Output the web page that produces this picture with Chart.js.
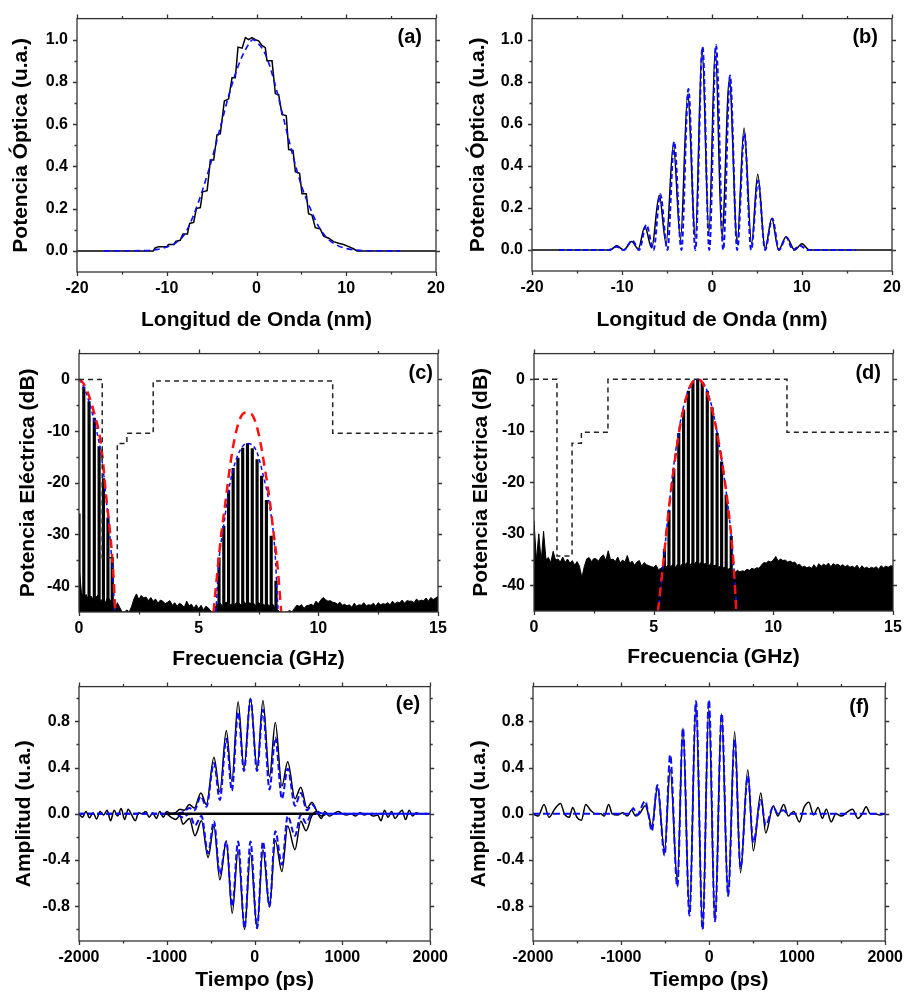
<!DOCTYPE html>
<html>
<head>
<meta charset="utf-8">
<script src="https://cdn.jsdelivr.net/npm/chart.js@4.4.1/dist/chart.umd.min.js"></script>
<style>
  body { margin: 0; background: #fff; width: 910px; height: 993px; position: relative; overflow: hidden; }
  canvas { position: absolute; }
</style>
</head>
<body>
<canvas id="pa" width="455" height="335" style="left:0;top:0"></canvas>
<canvas id="pb" width="455" height="335" style="left:455px;top:0"></canvas>
<canvas id="pc" width="455" height="340" style="left:0;top:335px"></canvas>
<canvas id="pd" width="455" height="340" style="left:455px;top:335px"></canvas>
<canvas id="pe" width="455" height="325" style="left:0;top:668px"></canvas>
<canvas id="pf" width="455" height="325" style="left:455px;top:668px"></canvas>
<script>
// ---------- (a) espectro óptico, pulso gaussiano ----------
const aSolidNm = [-20, -11.5, -11.3, -10.9, -10.0, -9.8, -9.2, -9.0, -8.5, -8.2,
  -7.7, -7.45, -7.0, -6.7, -6.26, -6.0, -5.5, -5.14, -4.77, -4.4,
  -4.03, -3.58, -3.1, -2.73, -2.36, -2.06, -1.6, -1.24, -0.87, -0.5,
  -0.13, 0.24, 0.6, 0.98, 1.17, 1.73, 2.1, 2.47, 2.84, 3.32,
  3.58, 4.07, 4.33, 4.8, 5.07, 5.55, 5.8, 6.18, 6.55, 7.1,
  7.48, 8.04, 8.6, 9.15, 9.7, 10.27, 10.8, 11.2, 20];
const aSolidP = [0, 0, 0.014, 0.02, 0.02, 0.03, 0.03, 0.045, 0.05, 0.08,
  0.08, 0.13, 0.135, 0.2, 0.205, 0.28, 0.285, 0.43, 0.43, 0.55,
  0.555, 0.71, 0.72, 0.82, 0.82, 0.965, 0.96, 1.01, 1.0, 1.01,
  1.0, 0.995, 0.973, 0.962, 0.9, 0.9, 0.744, 0.74, 0.646, 0.64,
  0.48, 0.476, 0.375, 0.367, 0.27, 0.27, 0.176, 0.17, 0.11, 0.104,
  0.07, 0.06, 0.044, 0.036, 0.03, 0.02, 0.01, 0, 0];
const aFitNm = [-17, -13, -12, -11, -10, -9, -8, -7, -6, -5, -4, -3, -2, -1, -0.4,
  0, 1, 2, 3, 4, 5, 6, 7, 8, 9, 10, 11, 12, 16];
const aFitP = [0, 0.001, 0.002, 0.007, 0.018, 0.038, 0.08, 0.17, 0.29, 0.43, 0.59, 0.75, 0.88, 0.97, 1.0,
  0.99, 0.93, 0.8, 0.63, 0.46, 0.31, 0.2, 0.11, 0.055, 0.026, 0.011, 0.004, 0.001, 0];

// ---------- (b) espectro óptico conformado ----------
const bSolidNm = [-20, -11.3, -10.6, -9.8, -8.94, -8.2, -7.46, -6.7, -5.86, -5.1,
  -4.3, -3.5, -2.7, -1.85, -1.1, -0.35, 0.37, 1.1, 1.93, 2.8,
  3.56, 4.4, 5.08, 5.9, 6.64, 7.4, 8.24, 9.2, 10.0, 10.8, 20];
const bSolidP = [0, 0, 0.02, 0.0, 0.04, 0.005, 0.11, 0.01, 0.26, 0.03,
  0.5, 0.05, 0.74, 0.06, 0.96, 0.08, 0.96, 0.06, 0.81, 0.04,
  0.58, 0.03, 0.36, 0.005, 0.15, 0.0, 0.063, 0.0, 0.03, 0.0, 0];
const bFitNm = [-17, -11.5, -10.6, -9.8, -8.85, -8.1, -7.3, -6.5, -5.75, -4.95,
  -4.2, -3.4, -2.62, -1.85, -1.05, -0.3, 0.45, 1.25, 2.0, 2.8,
  3.6, 4.35, 5.12, 5.9, 6.7, 7.45, 8.25, 9.0, 9.8, 10.6, 16];
const bFitP = [0, 0, 0.015, 0, 0.045, 0, 0.12, 0, 0.265, 0,
  0.515, 0, 0.765, 0, 0.965, 0, 0.975, 0, 0.83, 0,
  0.555, 0, 0.33, 0, 0.15, 0, 0.06, 0, 0.02, 0, 0];

// ---------- (c) espectro eléctrico, sin conformar ----------
const DB_FLOOR = -45;
const NOISE_STEP = 0.1; // GHz entre muestras del ruido
const cLineGHz = [0, 0.2, 0.42, 0.64, 0.84, 1.02, 1.21, 1.39,
  5.85, 6.05, 6.25, 6.44, 6.64, 6.84, 7.04, 7.24, 7.44, 7.63, 7.83, 8.03, 8.23];
const cLineDb = [-26, -1.5, -4.3, -7.5, -13, -19.2, -26.8, -34.5,
  -34.5, -28.4, -21.5, -17.2, -15.2, -13.3, -12.4, -13.4, -15.5, -18.7, -23.4, -30.3, -39];
const cNoiseDb = [
  -36, -41.2, -42.3, -41.6, -42.8, -41.9, -42.6, -42.2, -41.7, -42.9,
  -42.4, -43.2, -42.1, -42.7, -43.6, -45, -43.2, -44.1, -45, -45,
  -44.6, -45, -43.9, -42.4, -41.5, -42.6, -41.8, -42.3, -42.1, -42.8,
  -42.2, -42.9, -42.5, -43.3, -42.7, -42.9, -43.4, -43.1, -42.8, -43.7,
  -43.2, -43.9, -43.3, -43.6, -44.1, -42.9, -43.8, -43.5, -44.3, -43.6,
  -44.4, -43.7, -44.6, -43.9, -44.2, -44.8, -45, -43.9, -43.4, -43.3,
  -43.9, -43.2, -43.1, -43.7, -43.4, -43.6, -43.1, -43.3, -43.8, -43.0,
  -43.6, -43.2, -43.4, -43.3, -43.9, -43.1, -43.7, -43.5, -43.8, -43.6,
  -43.9, -43.5, -44.3, -44.6, -45, -45, -45, -45, -44.7, -45,
  -44.3, -43.7, -43.9, -43.6, -44.3, -43.8, -43.7, -43.5, -43.8, -42.9,
  -43.4, -42.7, -42.2, -42.6, -42.9, -42.8, -43.1, -43.2, -43.5, -43.1,
  -43.7, -43.5, -43.8, -43.6, -44.1, -43.3, -43.9, -43.6, -43.7, -43.2,
  -43.8, -43.6, -43.7, -43.3, -43.9, -43.2, -43.6, -43.4, -43.5, -43.2,
  -43.6, -42.9, -43.4, -43.1, -43.2, -42.7, -43.3, -42.8, -42.9, -42.9,
  -43.2, -42.5, -42.9, -42.7, -42.8, -42.3, -42.9, -42.2, -42.6, -42.3,
  -42];
const cFiltGHz = [0, 0.97, 0.97, 1.6, 1.6, 2.0, 2.0, 3.1, 3.1, 10.6, 10.6, 15];
const cFiltDb = [0, 0, -34.5, -34.5, -12.4, -12.4, -10.4, -10.4, -0.3, -0.3, -10.4, -10.4];
const cRedBaseGHz = [0, 0.1, 0.25, 0.45, 0.65, 0.86, 1.0, 1.11, 1.24, 1.35, 1.44, 1.52];
const cRedBaseDb = [0, -0.3, -1.3, -3.6, -6.8, -10.8, -15.8, -21.5, -27, -32.2, -38, -45];
const cBlueBaseGHz = [0, 0.1, 0.25, 0.45, 0.65, 0.85, 1.0, 1.1, 1.22, 1.33, 1.42, 1.49];
const cBlueBaseDb = [0, -0.6, -2, -4.8, -8.3, -12.5, -17, -21.5, -27, -32.5, -38.5, -45];
const cRedBandGHz = [5.62, 5.81, 5.95, 6.13, 6.3, 6.53, 6.78, 7.02, 7.27, 7.52, 7.76, 7.97, 8.13, 8.29, 8.45];
const cRedBandDb = [-45, -35.9, -29.7, -23.4, -17.1, -10.8, -7.1, -6.4, -7.1, -10.8, -17.1, -23.4, -29.7, -35.9, -45];
const cBlueBandGHz = [5.72, 5.85, 6.04, 6.3, 6.64, 7.02, 7.4, 7.69, 7.97, 8.18, 8.32];
const cBlueBandDb = [-45, -35, -28.5, -20.3, -14.6, -12.4, -13.7, -18.4, -24.6, -32.8, -45];

// ---------- (d) espectro eléctrico, conformado ----------
const dLineGHz = [5.45, 5.64, 5.84, 6.05, 6.25, 6.45, 6.64, 6.84, 7.03, 7.24, 7.44, 7.65, 7.84, 8.03, 8.24];
const dLineDb = [-33, -25.5, -17.5, -10.5, -6, -2.3, -0.5, 0, -0.6, -2.3, -5.5, -10.5, -16, -22.5, -30.5];
const dNoiseDb = [
  -27.5, -35.2, -30, -35.4, -29.5, -35.0, -34.6, -35.6, -33.4, -35.1,
  -34.9, -35.5, -34.5, -35.6, -34.9, -35.7, -35.2, -36.1, -35.4, -36.3,
  -38.5, -36.4, -34.9, -34.6, -35.4, -34.8, -34.9, -35.3, -34.5, -34.1,
  -35.2, -33.3, -35.1, -34.9, -35.4, -34.5, -35.7, -35.1, -35.5, -34.2,
  -35.8, -35.3, -36.1, -35.5, -35.2, -36.3, -35.6, -36.0, -36.2, -36.4,
  -36.5, -36.1, -37, -36.7, -36.3, -36.5, -36.1, -36.4, -36.0, -36.6,
  -35.9, -36.4, -35.8, -36.0, -35.6, -36.2, -35.6, -35.9, -35.3, -35.9,
  -35.5, -35.9, -35.7, -36.3, -35.7, -36.2, -36.1, -36.5, -36.3, -36.6,
  -36.5, -36.9, -36.7, -37.1, -37.5, -37.1, -37.4, -37.2, -37.3, -36.9,
  -37.1, -36.7, -36.9, -36.6, -36.7, -36.1, -35.6, -35.7, -35.3, -35.5,
  -35.1, -34.4, -35.3, -34.9, -35.2, -35.1, -35.5, -35.3, -35.6, -35.5,
  -36.1, -35.9, -36.5, -36.3, -36.6, -36.4, -36.7, -36.0, -36.7, -35.8,
  -36.3, -35.9, -36.2, -35.7, -36.4, -35.8, -36.1, -35.9, -36.3, -36.0,
  -36.4, -36.1, -36.5, -36.3, -36.6, -36.1, -36.9, -36.2, -36.7, -36.5,
  -36.8, -36.5, -36.7, -36.4, -36.9, -36.2, -36.6, -36.3, -36.5, -36.2,
  -36.3];
const dFiltGHz = [0, 0.96, 0.96, 1.59, 1.59, 1.98, 1.98, 3.09, 3.09, 10.57, 10.57, 15];
const dFiltDb = [0, 0, -34.3, -34.3, -12.4, -12.4, -10.3, -10.3, 0, 0, -10.3, -10.3];
const dRedGHz = [5.18, 5.35, 5.63, 5.9, 6.18, 6.46, 6.65, 6.84, 7.0, 7.16, 7.44, 7.72, 7.99, 8.2, 8.34, 8.45];
const dRedDb = [-45, -37.9, -25.4, -15.3, -7.2, -2.1, -0.4, 0, -0.4, -1.8, -5.8, -12.2, -20.3, -28.5, -36, -45];
const dBlueGHz = [5.2, 5.36, 5.62, 5.88, 6.15, 6.43, 6.63, 6.82, 7.0, 7.18, 7.45, 7.73, 8.0, 8.22, 8.36, 8.48];
const dBlueDb = [-45, -38, -25.6, -15.2, -7.4, -2.3, -0.5, 0, -0.3, -1.6, -5.7, -12.5, -20.8, -29.5, -37, -45];

// ---------- (e) pulso temporal, sin conformar ----------
const eUpPs = [-2000, -1960, -1920, -1880, -1840, -1800, -1760, -1720, -1680, -1640,
  -1600, -1560, -1520, -1480, -1440, -1400, -1360, -1320, -1280, -1240,
  -1200, -1160, -1120, -1080, -1040, -1000, -960, -900, -850, -800,
  -743, -686, -612, -549, -463, -396, -322, -259, -188, -121,
  -47, 28, 95, 170, 236, 311, 377, 460, 526, 597,
  653, 720, 760, 800, 850, 900, 950, 1000, 1050, 1100,
  1150, 1200, 1250, 1300, 1350, 1400, 1440, 1480, 1520, 1560,
  1600, 1640, 1680, 1720, 1760, 1800, 1840, 1880, 1920, 1960, 2000];
const eUpAmp = [0, -0.03, 0.02, -0.035, 0.01, -0.045, 0.02, -0.01, 0.03, -0.06,
  0.03, -0.02, 0.045, -0.05, 0.04, -0.01, -0.06, 0.01, 0.0, 0.02,
  -0.03, 0.01, -0.04, 0.02, -0.03, 0.02, 0.0, 0.01, 0.04, 0.03,
  0.08, 0.05, 0.18, 0.08, 0.49, 0.19, 0.72, 0.28, 0.97, 0.39,
  1.0, 0.39, 0.98, 0.32, 0.79, 0.24, 0.45, 0.13, 0.23, 0.05,
  0.1, 0.0, -0.04, 0.02, -0.02, 0.0, 0.02, 0.0, -0.01, 0.0,
  -0.02, 0.01, -0.01, 0.0, -0.02, -0.01, -0.06, 0.03, -0.03, 0.02,
  -0.04, 0.0, 0.03, -0.05, 0.03, -0.02, 0.01, 0.0, 0.0, 0.0, 0.0];
const eLoPs = [-1000, -950, -900, -850, -816, -743, -679, -605, -530, -463,
  -396, -322, -255, -188, -114, -47, 28, 95, 170, 236,
  311, 377, 460, 526, 586, 650, 708, 760, 820];
const eLoAmp = [0.0, -0.03, -0.05, -0.02, -0.09, -0.04, -0.19, -0.06, -0.377, -0.105,
  -0.57, -0.235, -0.86, -0.32, -1.0, -0.34, -0.985, -0.31, -0.806, -0.23,
  -0.5, -0.105, -0.31, -0.064, -0.147, -0.02, 0.02, -0.02, 0.0];
const eFitUpPs = [-2000, -900, -800, -743, -686, -612, -549, -463, -396, -322,
  -259, -188, -121, -47, 28, 95, 170, 236, 311, 377,
  460, 526, 597, 653, 720, 800, 2000];
const eFitUpAmp = [0, 0, 0.02, 0.05, 0.03, 0.15, 0.06, 0.44, 0.12, 0.65,
  0.2, 0.88, 0.37, 0.99, 0.37, 0.9, 0.21, 0.66, 0.13, 0.39,
  0.07, 0.18, 0.03, 0.08, 0.02, 0, 0];
const eFitLoPs = [-2000, -900, -816, -743, -679, -605, -530, -463, -396, -322,
  -255, -188, -114, -47, 28, 95, 170, 236, 311, 377,
  460, 526, 586, 650, 800, 2000];
const eFitLoAmp = [0, 0, -0.03, 0.0, -0.1, -0.02, -0.34, -0.064, -0.52, -0.24,
  -0.8, -0.24, -0.99, -0.24, -0.99, -0.24, -0.8, -0.15, -0.44, -0.02,
  -0.19, -0.01, -0.08, 0, 0, 0];
const eZeroPs = [-1020, 700];
const eZeroAmp = [0, 0];

// ---------- (f) pulso temporal, conformado ----------
const fPs = [-2000, -1941, -1874, -1818, -1755, -1688, -1643, -1587, -1550, -1502,
  -1450, -1401, -1346, -1290, -1230, -1190, -1141, -1100, -1040, -980,
  -930, -881, -833, -790, -725, -690, -651, -587, -506, -442,
  -361, -297, -223, -149, -74, -4, 67, 141, 216, 290,
  357, 439, 502, 587, 643, 729, 780, 848, 900, 960,
  1026, 1078, 1134, 1185, 1238, 1286, 1331, 1387, 1440, 1500,
  1560, 1628, 1690, 1740, 1784, 1830, 1880, 1940, 2000];
const fAmp = [0, -0.02, 0.08, -0.03, 0.04, 0.09, 0.0, -0.03, 0.055, -0.03,
  -0.055, 0.08, 0.03, 0.0, 0.0, -0.02, 0.08, 0.0, -0.01, 0.01,
  -0.02, 0.03, -0.02, 0.0, 0.07, 0.0, -0.11, 0.23, -0.32, 0.385,
  -0.58, 0.74, -0.865, 0.94, -1.0, 0.91, -0.93, 0.865, -0.71, 0.71,
  -0.51, 0.38, -0.32, 0.18, -0.165, 0.07, -0.02, 0.08, -0.02, 0.02,
  -0.07, 0.055, 0.1, -0.01, 0.055, -0.04, 0.04, -0.07, 0.0, -0.02,
  0.01, 0.04, -0.04, 0.0, 0.06, 0.0, 0.0, -0.01, 0];
const fFitPs = [-2000, -900, -862, -820, -725, -690, -651, -587, -506, -442,
  -361, -297, -223, -149, -74, -2, 67, 143, 216, 290,
  357, 440, 502, 587, 643, 729, 780, 840, 900, 2000];
const fFitAmp = [0, 0, 0.05, -0.01, 0.11, 0.0, -0.15, 0.25, -0.36, 0.51,
  -0.63, 0.74, -0.88, 0.975, -1.0, 0.985, -0.93, 0.865, -0.71, 0.645,
  -0.47, 0.33, -0.25, 0.12, -0.1, 0.06, 0.0, 0.03, 0, 0];

// ---------- ticks ----------
const nmTicks = [-20, -10, 0, 10, 20];
const nmMinor = [-15, -5, 5, 15];
const optTicks = [0, 0.2, 0.4, 0.6, 0.8, 1.0];
const optMinor = [0.1, 0.3, 0.5, 0.7, 0.9];
const ghzTicks = [0, 5, 10, 15];
const ghzMinor = [2.5, 7.5, 12.5];
const dbTicks = [-40, -30, -20, -10, 0];
const dbMinor = [-35, -25, -15, -5];
const psTicks = [-2000, -1000, 0, 1000, 2000];
const psMinor = [-1500, -500, 500, 1500];
const ampTicks = [-0.8, -0.4, 0, 0.4, 0.8];
const ampMinor = [-1.0, -0.6, -0.2, 0.2, 0.6, 1.0];

const FONT = '"Liberation Sans", Arial, sans-serif';
Chart.defaults.font.family = FONT;
Chart.defaults.color = '#000';
Chart.defaults.animation = false;

const BLUE = '#0a0aff';
const RED = '#ff1010';

function xy(xs, ys) { return xs.map((x, i) => ({x: x, y: ys[i]})); }

// marco cerrado con marcas hacia fuera en los cuatro lados + etiqueta del panel
const framePlugin = {
  id: 'frame',
  afterDatasetsDraw(chart, args, o) {
    const {ctx, chartArea: a, scales} = chart;
    const sx = scales.x, sy = scales.y;
    ctx.save();
    ctx.strokeStyle = '#333';
    ctx.lineWidth = 1.3;
    ctx.strokeRect(a.left, a.top, a.right - a.left, a.bottom - a.top);
    ctx.beginPath();
    const xm = (vals, len) => vals.forEach(v => {
      const p = Math.round(sx.getPixelForValue(v)) + 0.5;
      ctx.moveTo(p, a.bottom); ctx.lineTo(p, a.bottom + len);
      ctx.moveTo(p, a.top); ctx.lineTo(p, a.top - len);
    });
    const ym = (vals, len) => vals.forEach(v => {
      const p = Math.round(sy.getPixelForValue(v)) + 0.5;
      ctx.moveTo(a.left, p); ctx.lineTo(a.left - len, p);
      ctx.moveTo(a.right, p); ctx.lineTo(a.right + len, p);
    });
    xm(o.xMajor, 4); xm(o.xMinor, 2.5);
    ym(o.yMajor, 4); ym(o.yMinor, 2.5);
    ctx.stroke();
    ctx.fillStyle = '#000';
    ctx.font = 'bold 20px ' + FONT;
    ctx.textAlign = 'right';
    ctx.textBaseline = 'middle';
    ctx.fillText(o.tag, a.right - o.tagInset, a.top + o.tagDrop);
    ctx.restore();
  }
};

function makePanel(id, p) {
  const canvas = document.getElementById(id);
  const h = canvas.height;
  return new Chart(canvas, {
    type: 'line',
    data: {datasets: p.datasets},
    plugins: [framePlugin],
    options: {
      responsive: false,
      layout: {padding: {top: p.top, right: p.right, left: 0, bottom: 0}},
      elements: {point: {radius: 0}},
      plugins: {
        legend: {display: false},
        tooltip: {enabled: false},
        frame: {xMajor: p.xTicks, xMinor: p.xMinor, yMajor: p.yTicks, yMinor: p.yMinor,
          tag: p.tag, tagInset: p.tagInset, tagDrop: p.tagDrop}
      },
      scales: {
        x: {
          type: 'linear', min: p.xMin, max: p.xMax, offset: false,
          afterBuildTicks: s => { s.ticks = p.xTicks.map(v => ({value: v})); },
          afterFit: s => { s.height = h - p.bottom; },
          grid: {display: false, drawTicks: false},
          border: {display: false},
          ticks: {font: {size: 16, weight: 'bold'}, padding: 7, maxRotation: 0, autoSkip: false,
            callback: v => String(v)},
          title: {display: true, text: p.xTitle, font: {size: 21, weight: 'bold'},
            padding: {top: 0, bottom: p.xTitlePad}}
        },
        y: {
          type: 'linear', min: p.yMin, max: p.yMax,
          afterBuildTicks: s => { s.ticks = p.yTicks.map(v => ({value: v})); },
          afterFit: s => { s.width = p.left; },
          grid: {display: false, drawTicks: false},
          border: {display: false},
          ticks: {font: {size: 16, weight: 'bold'}, padding: 9, autoSkip: false, callback: p.yFmt},
          title: {display: true, text: p.yTitle, font: {size: 21, weight: 'bold'},
            padding: {top: p.yTitlePad, bottom: 0}}
        }
      }
    }
  });
}

function solid(data, order, width) {
  return {data: data, borderColor: '#000', borderWidth: width || 1.5, fill: false, order: order,
    cubicInterpolationMode: 'monotone'};
}
function dashed(data, color, order, width, dash) {
  return {data: data, borderColor: color, borderWidth: width, borderDash: dash, fill: false, order: order,
    cubicInterpolationMode: 'monotone'};
}
function lines(xs, ys, order) {
  return {type: 'bar', data: xs.map((x, i) => ({x: x, y: [DB_FLOOR, ys[i]]})),
    backgroundColor: '#000', barThickness: 2.5, grouped: false, order: order};
}
function noise(vals, order) {
  return {data: vals.map((v, i) => ({x: i * NOISE_STEP, y: v})), borderColor: '#000', borderWidth: 1,
    backgroundColor: '#000', fill: 'start', tension: 0, order: order};
}
function steps(xs, ys, order) {
  return {data: xy(xs, ys), borderColor: '#222', borderWidth: 1.5, borderDash: [5, 4], fill: false,
    tension: 0, order: order};
}

const fmt1 = v => v.toFixed(1);
const optAxes = {xMin: -20, xMax: 20, xTicks: nmTicks, xMinor: nmMinor, yMin: -0.1, yMax: 1.1,
  yTicks: optTicks, yMinor: optMinor, yFmt: fmt1,
  xTitle: 'Longitud de Onda (nm)', yTitle: 'Potencia Óptica (u.a.)'};
const elAxes = {xMin: 0, xMax: 15, xTicks: ghzTicks, xMinor: ghzMinor, yMin: -45, yMax: 5,
  yTicks: dbTicks, yMinor: dbMinor, yFmt: v => String(v),
  xTitle: 'Frecuencia (GHz)', yTitle: 'Potencia Eléctrica (dB)'};
const timeAxes = {xMin: -2000, xMax: 2000, xTicks: psTicks, xMinor: psMinor, yMin: -1.1, yMax: 1.1,
  yTicks: ampTicks, yMinor: ampMinor, yFmt: fmt1,
  xTitle: 'Tiempo (ps)', yTitle: 'Amplitud (u.a.)'};

makePanel('pa', Object.assign({}, optAxes, {
  top: 6, right: 19, left: 77, bottom: 272, xTitlePad: 2.4, yTitlePad: 8.4,
  tag: '(a)', tagInset: 14, tagDrop: 19,
  datasets: [
    dashed(xy(aFitNm, aFitP), BLUE, 0, 1.6, [6, 4]),
    Object.assign(solid(xy(aSolidNm, aSolidP), 1), {cubicInterpolationMode: 'default', tension: 0})
  ]
}));

makePanel('pb', Object.assign({}, optAxes, {
  top: 6, right: 18, left: 77, bottom: 271, xTitlePad: 2.4, yTitlePad: 10.2,
  tag: '(b)', tagInset: 14, tagDrop: 19,
  datasets: [
    dashed(xy(bFitNm, bFitP), BLUE, 0, 2, [5, 3]),
    solid(xy(bSolidNm, bSolidP), 1)
  ]
}));

makePanel('pc', Object.assign({}, elAxes, {
  top: 10, right: 17, left: 79, bottom: 277, xTitlePad: 3.4, yTitlePad: 15.7,
  tag: '(c)', tagInset: 5, tagDrop: 20,
  datasets: [
    steps(cFiltGHz, cFiltDb, 0),
    dashed(xy(cRedBaseGHz, cRedBaseDb), RED, 1, 2.5, [9, 6]),
    dashed(xy(cRedBandGHz, cRedBandDb), RED, 1, 2.5, [9, 6]),
    dashed(xy(cBlueBaseGHz, cBlueBaseDb), BLUE, 2, 1.5, [4, 3]),
    dashed(xy(cBlueBandGHz, cBlueBandDb), BLUE, 2, 1.5, [4, 3]),
    lines(cLineGHz, cLineDb, 3),
    noise(cNoiseDb, 4)
  ]
}));

makePanel('pd', Object.assign({}, elAxes, {
  top: 10, right: 17, left: 79, bottom: 276, xTitlePad: 5.4, yTitlePad: 13.4,
  tag: '(d)', tagInset: 12, tagDrop: 20,
  datasets: [
    steps(dFiltGHz, dFiltDb, 0),
    dashed(xy(dRedGHz, dRedDb), RED, 1, 2.5, [9, 6]),
    dashed(xy(dBlueGHz, dBlueDb), BLUE, 2, 1.5, [4, 3]),
    lines(dLineGHz, dLineDb, 3),
    noise(dNoiseDb, 4)
  ]
}));

makePanel('pe', Object.assign({}, timeAxes, {
  top: 9, right: 18, left: 79, bottom: 273, xTitlePad: 0.4, yTitlePad: 12.1,
  tag: '(e)', tagInset: 10, tagDrop: 18,
  datasets: [
    Object.assign(solid(xy(eZeroPs, eZeroAmp), 0, 2.5), {tension: 0}),
    dashed(xy(eFitUpPs, eFitUpAmp), BLUE, 1, 2, [6, 3]),
    dashed(xy(eFitLoPs, eFitLoAmp), BLUE, 1, 2, [6, 3]),
    solid(xy(eUpPs, eUpAmp), 2),
    solid(xy(eLoPs, eLoAmp), 2)
  ]
}));

makePanel('pf', Object.assign({}, timeAxes, {
  top: 8, right: 18, left: 78, bottom: 273, xTitlePad: 0.4, yTitlePad: 11.4,
  tag: '(f)', tagInset: 16, tagDrop: 21,
  datasets: [
    dashed(xy(fFitPs, fFitAmp), BLUE, 0, 2, [7, 3]),
    solid(xy(fPs, fAmp), 1)
  ]
}));
</script>
</body>
</html>
